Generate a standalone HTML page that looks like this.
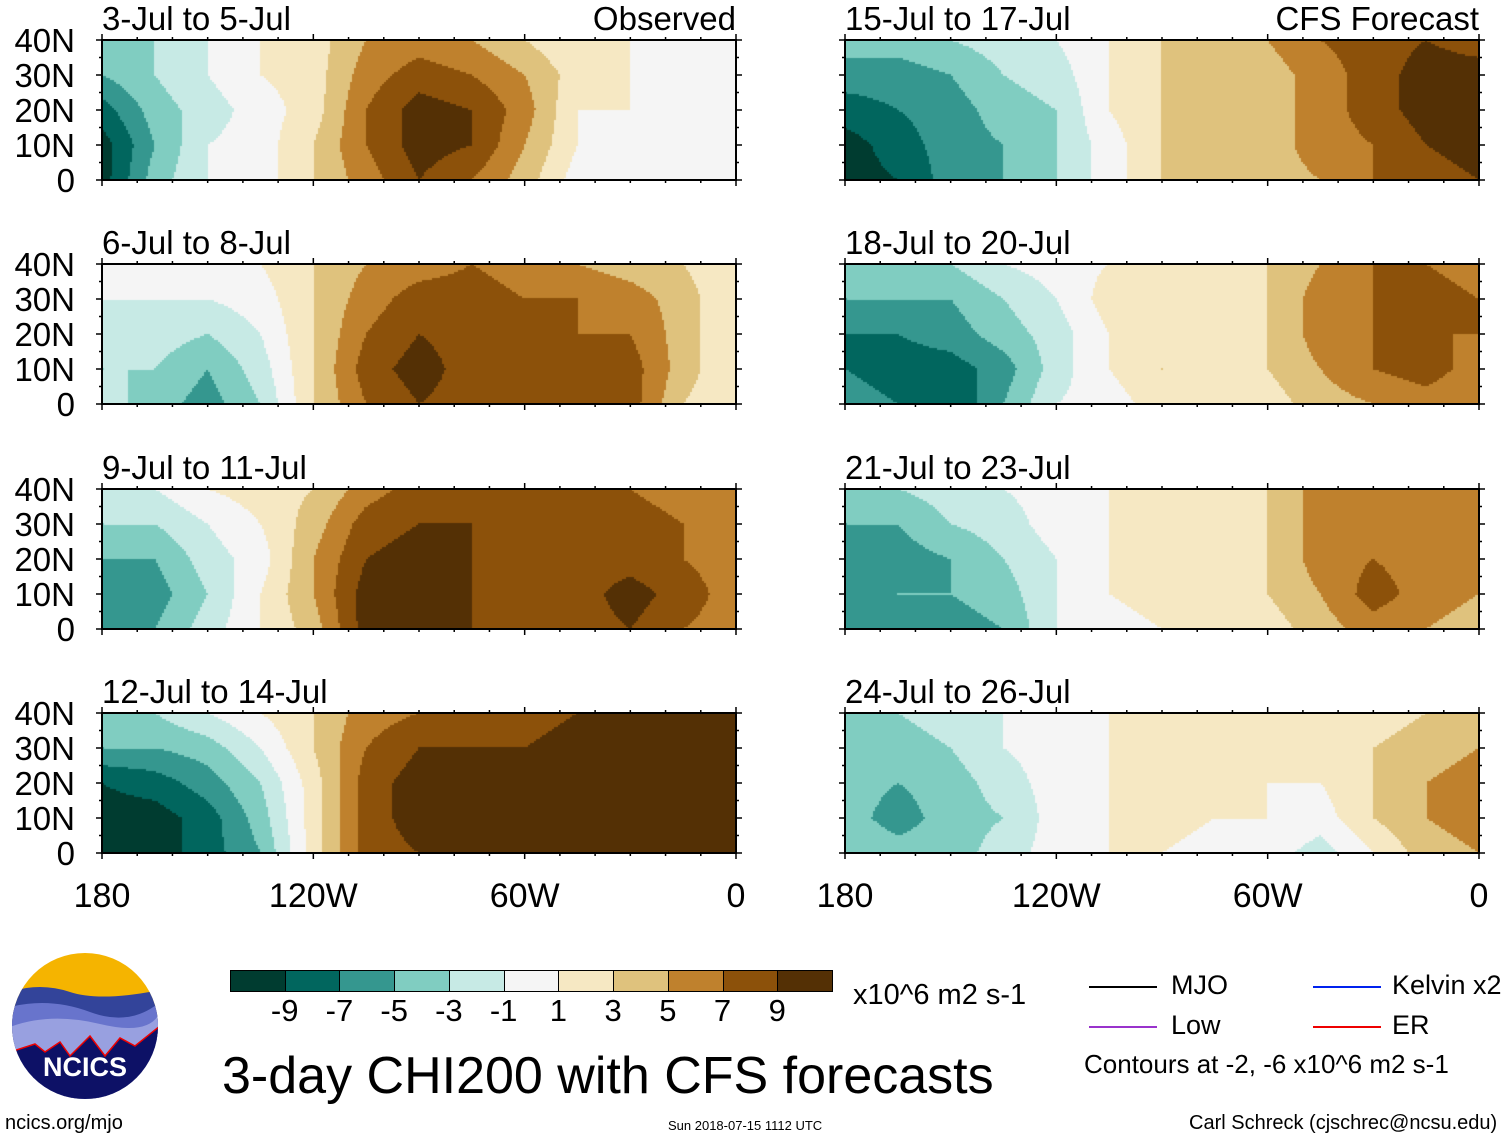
<!DOCTYPE html>
<html><head><meta charset="utf-8">
<style>
body{margin:0;background:#fff;font-family:"Liberation Sans",sans-serif;}
#root{position:relative;width:1510px;height:1141px;overflow:hidden;background:#fff;}
.t{position:absolute;white-space:nowrap;color:#000;line-height:1;}
canvas{position:absolute;}
.frame{position:absolute;border:2px solid #000;box-sizing:border-box;}
</style></head>
<body><div id="root"></div>
<script>
// Levels: colour-bar boundaries and colours
const levelBounds=[-9,-7,-5,-3,-1,1,3,5,7,9];
const levelColors=["#003c30","#01665e","#35978f","#80cdc1","#c7eae5","#f5f5f5","#f6e8c3","#dfc27d","#bf812d","#8c510a","#543005"];
const tickLabels=["-9","-7","-5","-3","-1","1","3","5","7","9"];
const latLabels=["40N","30N","20N","10N","0"];
const lonLabels=["180","120W","60W","0"];
const lonTicks=[180,120,60,0];
const gridLons=[180,165,150,135,120,105,90,75,60,45,30,15,0];
const gridLats=[40,30,20,10,0];
const panelTitles=["3-Jul to 5-Jul","6-Jul to 8-Jul","9-Jul to 11-Jul","12-Jul to 14-Jul","15-Jul to 17-Jul","18-Jul to 20-Jul","21-Jul to 23-Jul","24-Jul to 26-Jul"];
// per panel, per longitude column: values from 40N to 0
const p1=[[-4,-5,-8,-10,-10],[-3,-3,-4,-5,-4],[-1,-1,-2,-1,-1],[1,1,0,0,0],[2,2,2,3,3],[5,6,7,7,6],[6,8,10,10,9],[5,7,9,9,7],[3,5,6,5,4],[1,2,1,1,0],[1,1,1,0,0],[1,0,0,0,0],[1,0,0,0,0]];
const p2=[[0,-1,-3,-3,-2],[0,-1,-2,-3,-4],[0,-1,-3,-5,-6],[1,0,-1,-2,-3],[3,3,3,3,3],[5,6,7,8,7],[6,8,9,10,9],[7,8,8,8,8],[6,7,7,7,7],[5,7,7,8,8],[4,6,7,8,8],[3,4,4,4,3],[1,1,1,1,1]];
const p3=[[-1,-3,-5,-6,-5],[-1,-3,-5,-6,-5],[1,-1,-2,-3,-2],[2,1,0,1,1],[3,4,5,5,4],[6,8,9,10,10],[8,9,10,10,10],[8,9,9,9,9],[7,8,8,8,8],[7,8,8,8,8],[7,8,8,10,9],[6,7,7,8,7],[5,6,6,6,6]];
const p4=[[-4,-5,-9,-10,-10],[-3,-5,-8,-10,-10],[-1,-4,-6,-8,-8],[1,-1,-3,-4,-5],[3,3,2,2,2],[6,7,8,8,8],[7,9,10,10,9],[7,9,10,10,9],[8,9,9,9,9],[9,10,10,10,10],[10,10,10,10,10],[10,10,10,10,10],[10,10,10,10,10]];
const p5=[[-4,-6,-8,-10,-10],[-4,-6,-7,-8,-9],[-3,-5,-6,-6,-6],[-2,-3,-4,-5,-5],[-1,-2,-3,-3,-3],[1,1,1,0,0],[3,3,3,3,3],[4,3,3,3,3],[5,4,4,4,4],[7,6,6,6,5],[8,8,8,7,7],[9,10,10,9,8],[8,10,10,10,9]];
const p6=[[-4,-5,-7,-7,-6],[-3,-5,-7,-8,-7],[-3,-5,-6,-8,-9],[-1,-3,-4,-6,-5],[0,-1,-2,-2,-1],[1,2,1,1,0],[1,2,2,3,2],[2,2,3,2,2],[3,3,3,3,2],[5,6,6,5,4],[7,7,7,7,5],[7,8,7,8,6],[6,7,7,6,5]];
const p7=[[-4,-5,-6,-6,-6],[-3,-5,-6,-5,-6],[-2,-3,-5,-5,-6],[-1,-2,-3,-4,-5],[0,0,-1,-1,-1],[1,1,1,1,0],[1,2,3,2,1],[2,2,2,2,1],[3,3,3,3,2],[6,6,6,5,4],[6,7,7,8,6],[6,6,6,6,5],[5,5,5,5,4]];
const p8=[[-3,-3,-4,-4,-3],[-3,-4,-5,-6,-4],[-2,-3,-4,-4,-4],[-1,-1,-2,-3,-2],[0,0,0,0,0],[1,1,1,1,1],[1,2,2,2,1],[1,1,1,1,0],[1,1,1,1,0],[2,2,1,0,-2],[2,3,3,3,1],[3,4,5,5,4],[3,5,6,6,5]];
const panelData=[p1,p2,p3,p4,p5,p6,p7,p8];

const root=document.getElementById('root');
function txt(s,x,y,size,name,extra){const d=document.createElement('div');d.className='t';d.textContent=s;d.style.left=x+'px';d.style.top=y+'px';d.style.fontSize=size+'px';if(extra)Object.assign(d.style,extra);


root.appendChild(d);return d;}
function colorFor(v){let i=0;while(i<levelBounds.length&&v>=levelBounds[i])i++;return levelColors[i];}

const PW=634,PH=140;
const colX=[102,845];const rowY=[40,264,489,713];
function xScale(lon,x0){return x0+(180-lon)/180*PW;}
function yScale(lat,y0){return y0+(40-lat)/40*PH;}

panelData.forEach((data,pi)=>{
  const x0=colX[pi<4?0:1],y0=rowY[pi%4];
  const cv=document.createElement('canvas');cv.width=PW;cv.height=PH;cv.style.left=x0+'px';cv.style.top=y0+'px';
  
  
  root.appendChild(cv);
  const ctx=cv.getContext('2d');const step=2;
  const nC=gridLons.length,nR=gridLats.length;
  for(let px=0;px<PW;px+=step){
    const lon=180-(px+step/2)/PW*180;
    let fc=(180-lon)/15; let c0=Math.min(nC-2,Math.floor(fc)); let tc=fc-c0;
    for(let py=0;py<PH;py+=step){
      const lat=40-(py+step/2)/PH*40;
      let fr=(40-lat)/10; let r0=Math.min(nR-2,Math.floor(fr)); let tr=fr-r0;
      const v=(data[c0][r0]*(1-tc)+data[c0+1][r0]*tc)*(1-tr)+(data[c0][r0+1]*(1-tc)+data[c0+1][r0+1]*tc)*tr;
      ctx.fillStyle=colorFor(v);ctx.fillRect(px,py,step,step);
    }
  }
  const f=document.createElement('div');f.className='frame';
  f.style.left=(x0-1)+'px';f.style.top=(y0-1)+'px';f.style.width=(PW+2)+'px';f.style.height=(PH+2)+'px';
  
  
  root.appendChild(f);
  const svgNS='http://www.w3.org/2000/svg';
  const s=document.createElementNS(svgNS,'svg');s.setAttribute('width',PW+12);s.setAttribute('height',PH+12);
  s.style.position='absolute';s.style.left=(x0-6)+'px';s.style.top=(y0-6)+'px';
  
  
  for(let lon=180;lon>=0;lon-=10){const x=xScale(lon,x0)-x0+6;const big=lon%60===0;
    [[6,6-(big?6:3)],[PH+6,PH+6+(big?6:3)]].forEach(([a,b])=>{const l=document.createElementNS(svgNS,'line');l.setAttribute('x1',x);l.setAttribute('x2',x);l.setAttribute('y1',a);l.setAttribute('y2',b);l.setAttribute('stroke','#000');l.setAttribute('stroke-width','1.5');s.appendChild(l);});}
  for(let lat=0;lat<=40;lat+=5){const y=yScale(lat,y0)-y0+6;const big=lat%10===0;
    [[6,6-(big?6:3)],[PW+6,PW+6+(big?6:3)]].forEach(([a,b])=>{const l=document.createElementNS(svgNS,'line');l.setAttribute('y1',y);l.setAttribute('y2',y);l.setAttribute('x1',a);l.setAttribute('x2',b);l.setAttribute('stroke','#000');l.setAttribute('stroke-width','1.5');s.appendChild(l);});}
  root.appendChild(s);
  txt(panelTitles[pi],x0,y0-38,33,'panel-title-'+(pi+1));
  if(pi<4){gridLats.forEach((lat,i)=>{txt(latLabels[i],0,yScale(lat,y0)-16,33,'lat-label',{width:'75px',textAlign:'right'});});}
});
txt('Observed',436,2,33,'observed-label',{width:'300px',textAlign:'right'});
txt('CFS Forecast',1079,2,33,'forecast-label',{width:'400px',textAlign:'right'});
[0,1].forEach(ci=>{lonTicks.forEach((lon,i)=>{const x=xScale(lon,colX[ci]);txt(lonLabels[i],x-70,879,34,'lon-label',{width:'140px',textAlign:'center'});});});

const cbX=230,cbW=602,cbY=970,cbH=22;
levelColors.forEach((c,i)=>{const d=document.createElement('div');d.style.cssText='position:absolute;box-sizing:border-box;border:1.5px solid #000;';
d.style.left=(cbX+i*cbW/11)+'px';d.style.top=cbY+'px';d.style.width=(cbW/11+1)+'px';d.style.height=cbH+'px';d.style.background=c;


root.appendChild(d);});
tickLabels.forEach((t,i)=>{txt(t,cbX+(i+1)*cbW/11-30,995,31,'colorbar-tick',{width:'60px',textAlign:'center'});});
txt('x10^6 m2 s-1',853,981,29,'colorbar-units');
txt('3-day CHI200 with CFS forecasts',222,1050,52,'main-title');
txt('ncics.org/mjo',5,1113,20,'source-url');
txt('Sun 2018-07-15 1112 UTC',668,1119,13,'timestamp');
txt('Carl Schreck (cjschrec@ncsu.edu)',1189,1113,20,'author');
function leg(color,x,y,label,lx){const d=document.createElement('div');d.style.cssText='position:absolute;height:2px;width:68px;background:'+color;d.style.left=x+'px';d.style.top=y+'px';


root.appendChild(d);txt(label,lx,y-14,27,'legend-label');}
leg('#000',1089,986,'MJO',1171);leg('#9933cc',1089,1026,'Low',1171);
leg('#0022ee',1313,986,'Kelvin x2',1392);leg('#ee0000',1313,1026,'ER',1392);
txt('Contours at -2, -6 x10^6 m2 s-1',1084,1051,26,'contour-note');
root.insertAdjacentHTML('beforeend',`<svg style="position:absolute;left:10px;top:952px" width="150" height="150" viewBox="0 0 150 150">
<defs><clipPath id="cc"><circle cx="75" cy="74" r="73"/></clipPath></defs>
<g clip-path="url(#cc)"><rect width="150" height="150" fill="#f5b400"/>
<path d="M0 40 Q30 30 60 40 T150 38 V150 H0Z" fill="#33449a"/>
<path d="M0 55 Q40 45 80 60 T150 50 V150 H0Z" fill="#6874cc"/>
<path d="M0 75 Q40 60 90 72 T150 60 V150 H0Z" fill="#98a0e0"/>
<path d="M0 100 L25 92 L35 100 L50 90 L60 104 L80 84 L95 104 L110 86 L125 94 L150 74 V150 H0Z" fill="#0d1166" stroke="#e00" stroke-width="1.5"/>
</g><text x="75" y="124" text-anchor="middle" fill="#fff" font-family="Liberation Sans" font-weight="bold" font-size="27">NCICS</text></svg>`);
</script></body></html>
